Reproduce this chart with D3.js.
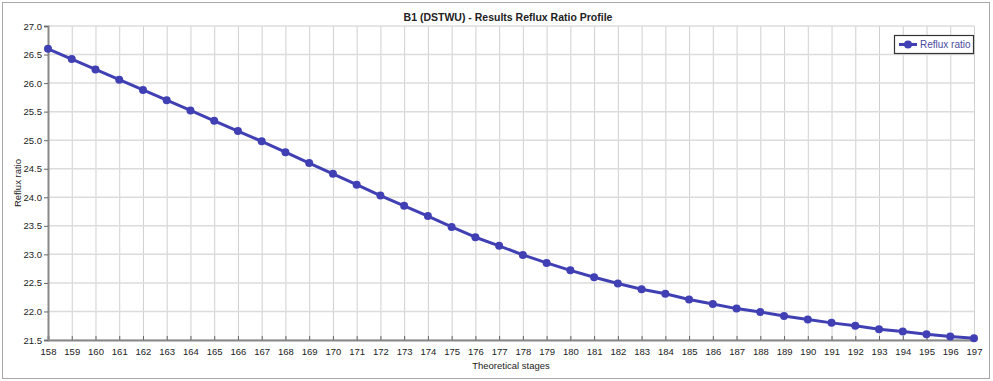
<!DOCTYPE html>
<html><head><meta charset="utf-8">
<script src="https://cdn.jsdelivr.net/npm/d3@7"></script>
<style>body{margin:0;background:#fff}svg{display:block}</style>
</head><body>
<script>
const title = "B1 (DSTWU) - Results Reflux Ratio Profile";
const xLabel = "Theoretical stages";
const yLabel = "Reflux ratio";
const seriesName = "Reflux ratio";
const stages = [158,159,160,161,162,163,164,165,166,167,168,169,170,171,172,173,174,175,176,177,178,179,180,181,182,183,184,185,186,187,188,189,190,191,192,193,194,195,196,197];
const reflux = [26.60,26.42,26.24,26.06,25.88,25.70,25.52,25.34,25.16,24.98,24.79,24.60,24.41,24.22,24.03,23.85,23.67,23.48,23.30,23.15,22.99,22.85,22.72,22.60,22.49,22.39,22.31,22.21,22.13,22.05,21.99,21.92,21.86,21.80,21.75,21.69,21.65,21.60,21.56,21.53];
const yTicks = [21.5,22.0,22.5,23.0,23.5,24.0,24.5,25.0,25.5,26.0,26.5,27.0];

const W = 993, H = 381;
const m = {left:48, right:19, top:26, bottom:41};
const svg = d3.select("body").append("svg").attr("width", W).attr("height", H);
svg.append("rect").attr("x",2.5).attr("y",2.5).attr("width",W-6).attr("height",H-5)
  .attr("fill","#fff").attr("stroke","#a9a9a9").attr("stroke-width",1);

const x = d3.scaleLinear().domain([158,197]).range([m.left, W-m.right]);
const y = d3.scaleLinear().domain([21.5,27.0]).range([H-m.bottom, m.top]);
const font = "Liberation Sans, Arial, sans-serif";

// grid
const g = svg.append("g");
g.selectAll(".vg").data(stages).join("line")
  .attr("x1",d=>x(d)+0.5).attr("x2",d=>x(d)+0.5).attr("y1",y(27)).attr("y2",y(21.5))
  .attr("stroke","#d0d0d0").attr("stroke-width",1);
g.selectAll(".hg").data(yTicks).join("line")
  .attr("x1",x(158)).attr("x2",x(197)).attr("y1",d=>y(d)).attr("y2",d=>y(d))
  .attr("stroke","#dcdcdc").attr("stroke-width",1.5);

// axes
const xAxis = d3.axisBottom(x).tickValues(stages).tickFormat(d3.format("d")).tickSize(-4).tickPadding(8);
const gx = svg.append("g").attr("transform",`translate(0,${y(21.5)})`).call(xAxis);
const yAxis = d3.axisLeft(y).tickValues(yTicks).tickFormat(d3.format(".1f")).tickSize(4).tickPadding(2);
const gy = svg.append("g").attr("transform",`translate(${x(158)},0)`).call(yAxis);
[gx,gy].forEach(a=>{
  a.select(".domain").attr("stroke","#888").attr("stroke-width",2);
  a.selectAll(".tick line").attr("stroke","#666");
  a.selectAll("text").attr("fill","#222").style("font-family",font).style("font-size","9.5px");
});

// line
const line = d3.line().x((d,i)=>x(stages[i])).y(d=>y(d));
const color = "#4040b4";
svg.append("path").datum(reflux).attr("d",line).attr("fill","none")
  .attr("stroke",color).attr("stroke-width",3).attr("stroke-linejoin","round");
svg.selectAll(".pt").data(reflux).join("circle")
  .attr("cx",(d,i)=>x(stages[i])).attr("cy",d=>y(d)).attr("r",4).attr("fill",color);

// title & labels
svg.append("text").attr("x",508).attr("y",21).attr("text-anchor","middle")
  .style("font-family",font).style("font-size","10.5px").style("font-weight","bold").attr("fill","#222").text(title);
svg.append("text").attr("x",(x(158)+x(197))/2).attr("y",369).attr("text-anchor","middle")
  .style("font-family",font).style("font-size","9.5px").attr("fill","#222").text(xLabel);
svg.append("text").attr("transform",`translate(21,${(y(21.5)+y(27))/2}) rotate(-90)`).attr("text-anchor","middle")
  .style("font-family",font).style("font-size","9.5px").attr("fill","#222").text(yLabel);

// legend
const lg = svg.append("g");
lg.append("rect").attr("x",894.5).attr("y",35.5).attr("width",79).attr("height",18)
  .attr("fill","#fff").attr("stroke","#333").attr("stroke-width",1.2);
lg.append("line").attr("x1",899).attr("x2",917).attr("y1",44.5).attr("y2",44.5).attr("stroke",color).attr("stroke-width",3);
lg.append("circle").attr("cx",908).attr("cy",44.5).attr("r",4).attr("fill",color);
lg.append("text").attr("x",920).attr("y",48).style("font-family",font).style("font-size","10px")
  .attr("fill","#4a4aa0").text(seriesName);
</script>
</body></html>
